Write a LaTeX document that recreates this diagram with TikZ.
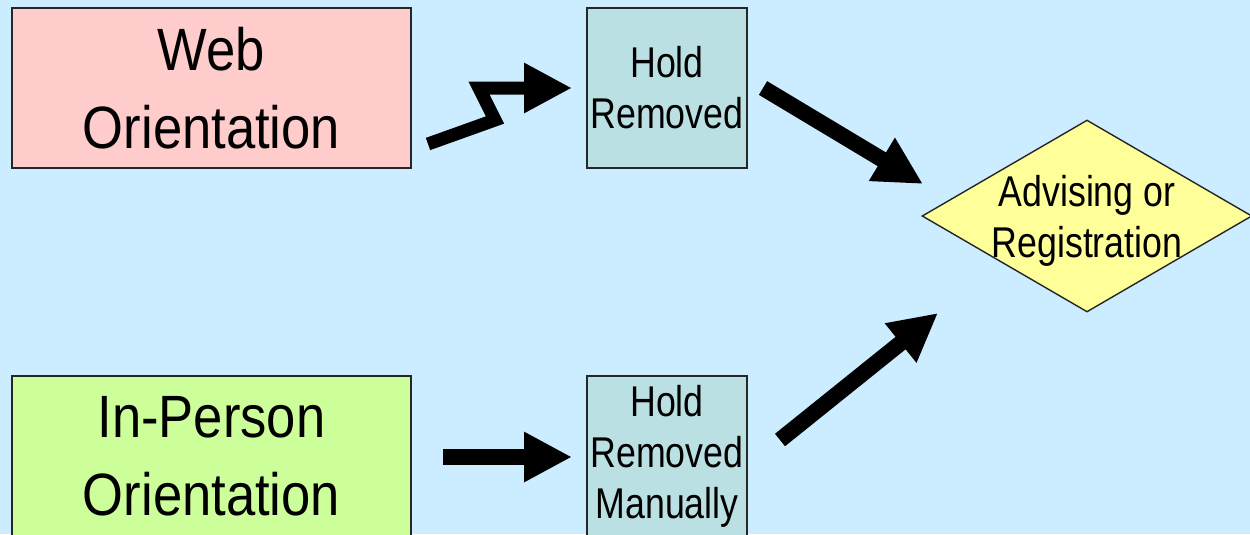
\documentclass[tikz,border=0pt]{standalone}
\usepackage{fontspec}
\setmainfont{Liberation Sans}[FakeStretch=0.83]
\newfontfamily\widefam{Liberation Sans}[FakeStretch=0.88]
\usepackage{tikz}
\usetikzlibrary{arrows.meta,shapes.geometric}
\definecolor{bg}{RGB}{204,236,255}
\definecolor{webpink}{RGB}{255,204,204}
\definecolor{livegreen}{RGB}{204,255,153}
\definecolor{holdteal}{RGB}{187,224,227}
\definecolor{advyellow}{RGB}{255,255,153}
\newcommand{\bigtxt}{\widefam\fontsize{34}{44.5}\selectfont}
\newcommand{\smalltxt}{\fontsize{24.5}{29}\selectfont}

\begin{document}
\begin{tikzpicture}[x=0.02cm, y=-0.02cm]
	\tikzstyle{every node} = [align=center, inner sep=0pt]
	\tikzstyle{box}    = [rectangle, draw=black!85, line width=0.8pt]
	\tikzstyle{orient} = [box, minimum width=7.98cm, minimum height=3.2cm, font=\bigtxt]
	\tikzstyle{hold}   = [box, fill=holdteal, minimum width=3.2cm, minimum height=3.2cm, font=\smalltxt]
	\tikzstyle{fat}    = [line width=0.32cm, -{Triangle[length=0.96cm,width=0.94cm]}]
	\fill[bg] (0,0) rectangle (1250,534);
	\useasboundingbox (0,0) rectangle (1250,534);
	\node[orient, fill=webpink]   (web)    at (211.5,88)  {Web\\Orientation};
	\node[orient, fill=livegreen] (person) at (211.5,456) {In-Person\\Orientation};
	\node[hold]   (hold)   at (667,88)  {Hold\\Removed};
	\node[hold]   (manual) at (667,456) {Hold\\Removed\\Manually};
	\node[diamond, draw=black!85, line width=0.8pt, fill=advyellow,
	      minimum width=6.6cm, minimum height=3.84cm] (adv) at (1087,216) {};
	\node[font=\smalltxt, yshift=-0.1cm] (advtxt) at (adv) {Advising or\\Registration};
	\coordinate (z0) at (428,144);
	\coordinate (z1) at (495,120);
	\coordinate (z2) at (479,88);
	\coordinate (z3) at (572,88);
	\coordinate (p0) at (443,457);
	\coordinate (p1) at (572,457);
	\coordinate (h0) at (763,88);
	\coordinate (h1) at (923,184);
	\coordinate (m0) at (780,440);
	\coordinate (m1) at (938,313);
	\draw[fat, line width=0.26cm, line join=miter] (z0) -- (z1) -- (z2) -- (z3);
	\draw[fat] (p0) -- (p1);
	\draw[fat] (h0) -- (h1);
	\draw[fat] (m0) -- (m1);
\end{tikzpicture}
\end{document}
